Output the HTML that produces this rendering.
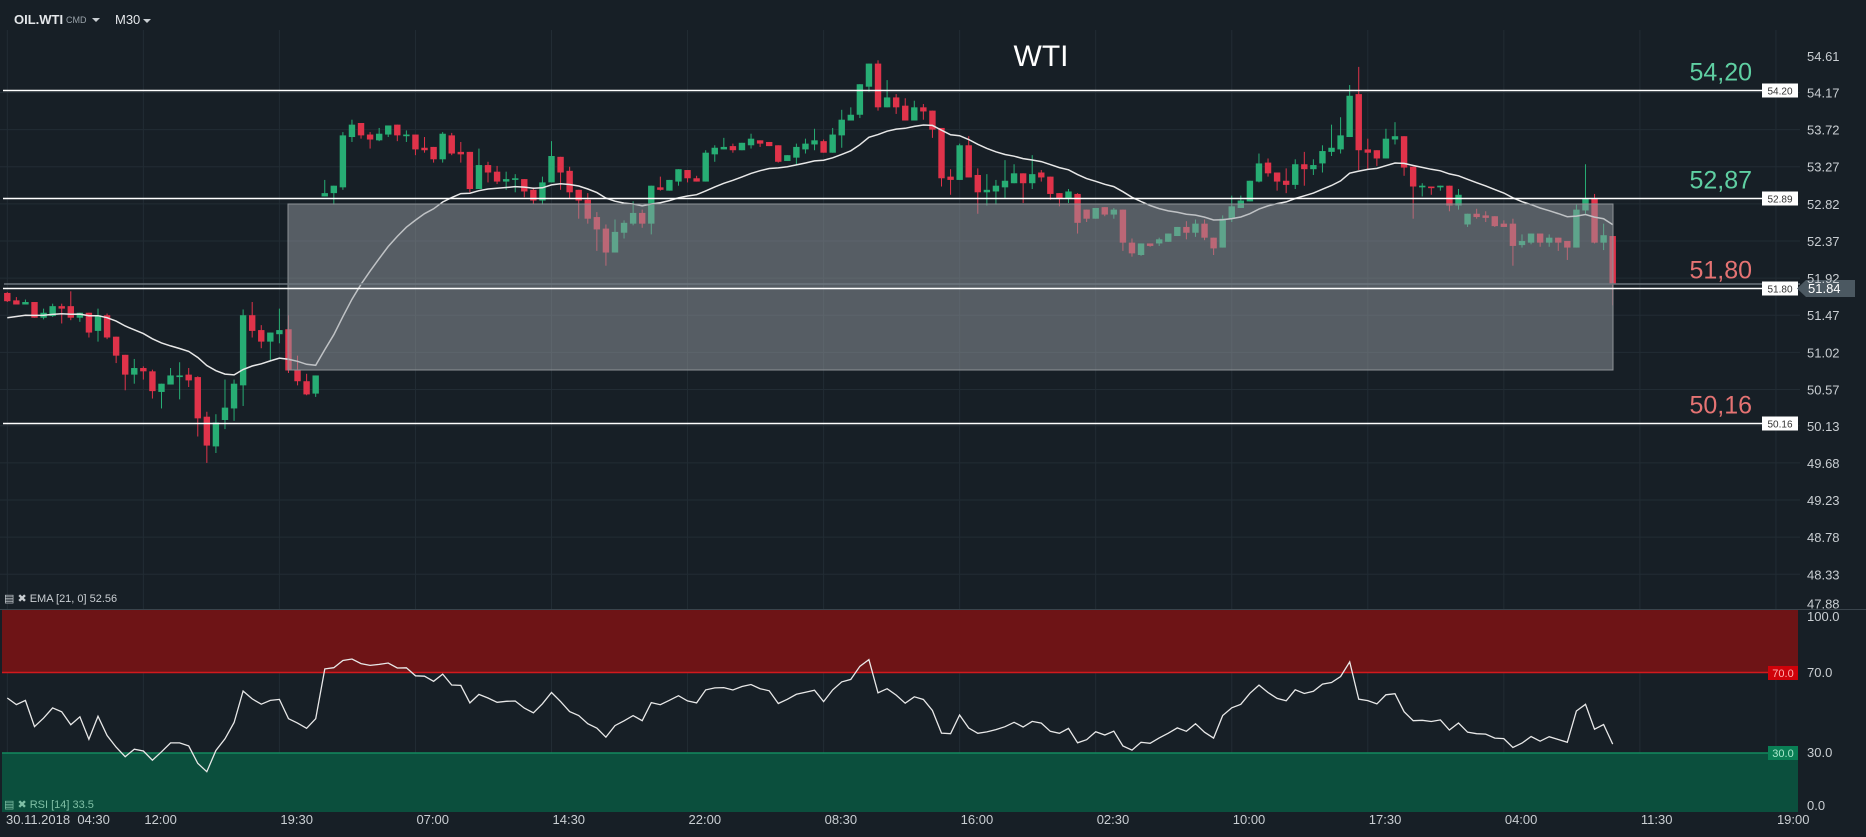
<!DOCTYPE html>
<html><head><meta charset="utf-8"><style>
html,body{margin:0;padding:0;background:#171f26;}
svg{display:block;font-family:"Liberation Sans Narrow","Liberation Sans",sans-serif;}
</style></head><body>
<svg id="chart" width="1866" height="837" viewBox="0 0 1866 837">
<rect x="0" y="0" width="1866" height="837" fill="#171f26"/>
<g id="grid"></g>
<g id="candles"></g>
<path id="ema" fill="none" stroke="#e8e8e8" stroke-width="1.5"/>
<rect x="288" y="204" width="1325" height="166" fill="rgba(150,156,162,0.5)" stroke="#8d9296" stroke-width="1"/>
<line x1="4" y1="284" x2="1800" y2="284" stroke="#6d777e" stroke-width="1.5"/>
<g id="levels"></g>
<g id="rsi">
<rect x="2" y="610" width="1796" height="63" fill="#6e1416"/>
<line x1="2" y1="672.5" x2="1798" y2="672.5" stroke="#d2191d" stroke-width="1.5"/>
<rect x="2" y="753" width="1796" height="59" fill="#0b4f3d"/>
<line x1="2" y1="753" x2="1798" y2="753" stroke="#138a5e" stroke-width="1.5"/>
<line x1="0" y1="609.5" x2="1866" y2="609.5" stroke="#3a444c" stroke-width="1"/>
<path id="rsiLine" fill="none" stroke="#e8e8e8" stroke-width="1.3"/>
<rect x="1768" y="666" width="30" height="14" fill="#d0020a"/>
<text x="1783" y="677" fill="#ffb0b0" font-size="11" text-anchor="middle">70.0</text>
<rect x="1768" y="746" width="30" height="14" fill="#0a7f55"/>
<text x="1783" y="757" fill="#a9e8cc" font-size="11" text-anchor="middle">30.0</text>
<text x="1807" y="621" fill="#c9ced2" font-size="13">100.0</text>
<text x="1807" y="677" fill="#c9ced2" font-size="13">70.0</text>
<text x="1807" y="757" fill="#c9ced2" font-size="13">30.0</text>
<text x="1807" y="810" fill="#c9ced2" font-size="13">0.0</text>
</g>
<g id="labels">
<text x="14" y="24" fill="#e4e7ea" font-size="13" font-weight="bold">OIL.WTI</text>
<text x="66" y="23" fill="#9aa3aa" font-size="9">CMD</text>
<path d="M92 18 L100 18 L96 22 Z" fill="#c9ced2"/>
<text x="115" y="24" fill="#e4e7ea" font-size="13">M30</text>
<path d="M143 19 L151 19 L147 23 Z" fill="#c9ced2"/>
<text x="1041" y="66" fill="#ffffff" font-size="30" text-anchor="middle">WTI</text>
<text x="4" y="602" fill="#c9ced2" font-size="11">▤ ✖ EMA [21, 0] 52.56</text>
<text x="4" y="808" fill="#7fbfa5" font-size="11">▤ ✖ RSI [14] 33.5</text>
<path d="M1797 288.5 L1806 280 L1855 280 L1855 297 L1806 297 Z" fill="#4b5861"/>
<text x="1808" y="293" fill="#ffffff" font-size="13">51.84</text>
</g>
<g id="axes"></g>
</svg>
<script>
const NS="http://www.w3.org/2000/svg";
const opens=[51.74,51.65,51.60,51.63,51.44,51.46,51.58,51.58,51.44,51.50,51.28,51.47,51.21,50.99,50.75,50.83,50.79,50.54,50.63,50.72,50.75,50.72,50.24,49.88,50.20,50.34,50.62,51.47,51.29,51.15,51.24,51.30,50.81,50.67,50.52,52.91,52.95,53.02,53.63,53.80,53.66,53.59,53.66,53.78,53.64,53.66,53.50,53.51,53.36,53.65,53.45,53.45,53.00,53.29,53.21,53.09,53.11,53.12,52.99,52.86,53.08,53.39,53.22,52.99,52.87,52.66,52.52,52.23,52.47,52.58,52.71,52.58,53.02,52.98,53.09,53.23,53.13,53.09,53.42,53.48,53.52,53.47,53.53,53.59,53.57,53.53,53.34,53.38,53.48,53.54,53.58,53.44,53.65,53.83,53.90,54.24,54.52,53.99,54.11,54.01,53.83,53.99,53.95,53.74,53.15,53.11,53.53,53.17,52.96,52.97,53.02,53.07,53.19,53.07,53.20,53.15,52.95,52.88,52.94,52.75,52.64,52.78,52.69,52.75,52.35,52.20,52.34,52.34,52.36,52.43,52.54,52.47,52.58,52.41,52.29,52.64,52.77,52.85,53.09,53.32,53.20,53.10,53.05,53.30,53.24,53.31,53.45,53.48,53.63,54.15,53.48,53.47,53.37,53.60,53.64,53.27,53.02,53.03,53.02,53.04,52.80,52.57,52.70,52.68,52.67,52.58,52.58,52.32,52.35,52.46,52.35,52.41,52.37,52.29,52.74,52.88,52.35,52.43];
const highs=[51.75,51.69,51.66,51.63,51.55,51.61,51.61,51.76,51.50,51.50,51.55,51.49,51.21,50.99,50.94,50.85,50.81,50.64,50.83,50.90,50.83,50.73,50.30,50.27,50.69,50.69,51.54,51.63,51.35,51.26,51.55,51.47,50.98,50.76,50.74,53.11,53.04,53.69,53.84,53.80,53.69,53.74,53.77,53.78,53.71,53.66,53.63,53.51,53.69,53.68,53.57,53.45,53.49,53.33,53.28,53.21,53.18,53.12,53.02,53.15,53.58,53.39,53.27,52.99,52.95,52.72,52.57,52.63,52.62,52.85,52.75,53.04,53.15,53.11,53.24,53.23,53.16,53.47,53.53,53.62,53.55,53.56,53.67,53.59,53.57,53.53,53.41,53.55,53.61,53.73,53.60,53.74,53.96,53.99,54.27,54.52,54.56,54.32,54.15,54.10,54.07,54.03,53.95,53.74,53.24,53.55,53.64,53.25,53.18,53.11,53.35,53.30,53.19,53.41,53.23,53.15,52.95,53.00,52.95,52.75,52.77,52.78,52.77,52.75,52.40,52.34,52.34,52.41,52.46,52.54,52.61,52.63,52.63,52.41,52.68,52.92,52.92,53.10,53.43,53.37,53.20,53.25,53.36,53.45,53.36,53.53,53.78,53.87,54.26,54.48,53.61,53.47,53.73,53.81,53.64,53.27,53.07,53.03,53.04,53.04,53.00,52.70,52.76,52.73,52.67,52.62,52.64,52.45,52.46,52.46,52.45,52.41,52.37,52.81,53.30,52.94,52.58,52.43];
const lows=[51.63,51.60,51.60,51.44,51.42,51.45,51.37,51.41,51.39,51.20,51.15,51.18,50.89,50.56,50.64,50.69,50.46,50.34,50.63,50.45,50.60,50.00,49.68,49.80,50.09,50.19,50.37,51.20,51.07,50.92,51.13,50.77,50.62,50.50,50.48,52.91,52.81,52.99,53.57,53.61,53.49,53.58,53.63,53.58,53.57,53.41,53.44,53.32,53.32,53.41,53.32,52.96,53.00,53.08,53.06,52.99,52.96,52.90,52.82,52.81,53.08,52.99,52.88,52.64,52.58,52.25,52.07,52.23,52.40,52.56,52.53,52.45,52.98,52.98,53.04,53.08,53.09,53.09,53.33,53.48,53.44,53.47,53.49,53.51,53.52,53.32,53.34,53.30,53.43,53.47,53.44,53.44,53.50,53.83,53.86,54.18,53.95,53.99,53.91,53.83,53.83,53.84,53.62,53.03,52.93,53.11,53.14,52.70,52.80,52.81,52.89,53.07,52.83,53.00,53.09,52.87,52.79,52.83,52.46,52.60,52.64,52.67,52.64,52.25,52.18,52.19,52.30,52.31,52.36,52.43,52.39,52.42,52.38,52.20,52.29,52.60,52.77,52.85,53.08,53.15,52.98,52.95,53.00,53.04,53.17,53.20,53.40,53.43,53.63,53.23,53.23,53.28,53.37,53.54,53.16,52.64,52.91,52.93,52.98,52.73,52.75,52.54,52.64,52.60,52.54,52.54,52.07,52.29,52.33,52.30,52.30,52.25,52.14,52.29,52.70,52.34,52.26,51.59];
const closes=[51.64,51.60,51.63,51.44,51.50,51.58,51.55,51.44,51.50,51.26,51.47,51.20,50.98,50.75,50.83,50.79,50.55,50.64,50.74,50.74,50.68,50.22,49.89,50.17,50.35,50.64,51.47,51.28,51.15,51.26,51.29,50.80,50.67,50.51,50.74,52.95,53.04,53.65,53.78,53.65,53.60,53.67,53.77,53.65,53.66,53.48,53.47,53.36,53.67,53.43,53.42,53.00,53.29,53.20,53.09,53.12,53.13,52.97,52.86,53.08,53.40,53.20,52.96,52.86,52.64,52.51,52.23,52.48,52.59,52.71,52.58,53.04,52.99,53.11,53.24,53.13,53.09,53.44,53.50,53.51,53.47,53.56,53.61,53.55,53.52,53.33,53.41,53.51,53.55,53.59,53.44,53.66,53.84,53.90,54.27,54.52,53.99,54.11,53.99,53.83,53.99,53.94,53.72,53.13,53.11,53.53,53.14,52.96,52.99,53.04,53.10,53.19,53.07,53.18,53.14,52.94,52.89,52.97,52.59,52.64,52.77,52.69,52.75,52.35,52.22,52.34,52.31,52.39,52.46,52.54,52.47,52.58,52.41,52.28,52.64,52.79,52.86,53.10,53.31,53.19,53.09,53.05,53.30,53.24,53.29,53.46,53.50,53.65,54.13,53.47,53.44,53.37,53.61,53.64,53.26,53.03,53.04,53.01,53.04,52.80,52.93,52.70,52.66,52.65,52.55,52.54,52.31,52.37,52.46,52.35,52.41,52.35,52.29,52.75,52.88,52.35,52.44,51.85];
const emaSeed=51.44;
const rsiSeedGain=0.029, rsiSeedLoss=0.022;
const priceTicks=[54.61,54.17,53.72,53.27,52.82,52.37,51.92,51.47,51.02,50.57,50.13,49.68,49.23,48.78,48.33,47.88];
const timeLabels=["30.11.2018  04:30","12:00","19:30","07:00","14:30","22:00","08:30","16:00","02:30","10:00","17:30","04:00","11:30","19:00"];
const levelValues=[54.20,52.89,51.80,50.16];
const levelTexts=["54,20","52,87","51,80","50,16"];
const levelColors=["#5fcfa2","#5fcfa2","#e57373","#e57373"];

const yP=p=>90+(54.20-p)*82.5;
const xI=i=>7.3+9.07*i;
const yR=v=>814-v*2.04;
const gridX=k=>7.3+15*9.07*k;

const grid=document.getElementById('grid');
const axes=document.getElementById('axes');
priceTicks.forEach((t,k)=>{
  const y=yP(t);
  if(k>0&&k<priceTicks.length-1){
    const l=document.createElementNS(NS,'line');
    l.setAttribute('x1',0);l.setAttribute('x2',1800);l.setAttribute('y1',y);l.setAttribute('y2',y);
    l.setAttribute('stroke','#222c34');l.setAttribute('stroke-width','1');
    
    
    grid.appendChild(l);
  }
  const tx=document.createElementNS(NS,'text');
  const last=k===priceTicks.length-1;
  tx.setAttribute('x',1807);tx.setAttribute('y',last?y-3:y+5);tx.setAttribute('fill','#c9ced2');tx.setAttribute('font-size','13');
  tx.textContent=t.toFixed(2);
  
  
  axes.appendChild(tx);
});
timeLabels.forEach((t,k)=>{
  const x=gridX(k);
  const l=document.createElementNS(NS,'line');
  l.setAttribute('x1',x);l.setAttribute('x2',x);l.setAttribute('y1',30);l.setAttribute('y2',812);
  l.setAttribute('stroke','#222c34');l.setAttribute('stroke-width','1');
  
  
  grid.appendChild(l);
  const tx=document.createElementNS(NS,'text');
  tx.setAttribute('x',k===0?6:x+1);tx.setAttribute('y',824);tx.setAttribute('fill','#c9ced2');tx.setAttribute('font-size','13');
  tx.setAttribute('xml:space','preserve');tx.style.whiteSpace='pre';
  tx.textContent=t;
  
  
  axes.appendChild(tx);
});

const cg=document.getElementById('candles');
closes.forEach((c,i)=>{
  const o=opens[i],up=c>=o,col=up?'#27ad74':'#e0334a',x=xI(i);
  const w=document.createElementNS(NS,'line');
  w.setAttribute('x1',x);w.setAttribute('x2',x);w.setAttribute('y1',yP(highs[i]));w.setAttribute('y2',yP(lows[i]));
  w.setAttribute('stroke',col);w.setAttribute('stroke-width','1');
  
  
  cg.appendChild(w);
  const b=document.createElementNS(NS,'rect');
  const yt=yP(Math.max(o,c)),yb=yP(Math.min(o,c));
  b.setAttribute('x',x-3.2);b.setAttribute('width',6.4);b.setAttribute('y',yt);b.setAttribute('height',Math.max(1.5,yb-yt));
  b.setAttribute('fill',col);
  
  
  cg.appendChild(b);
});

let e=emaSeed,k=2/22,d='';
closes.forEach((c,i)=>{e=i===0?emaSeed:e+k*(c-e);d+=(i?'L':'M')+xI(i).toFixed(1)+' '+yP(e).toFixed(1);});
document.getElementById('ema').setAttribute('d',d);

let ag=rsiSeedGain,al=rsiSeedLoss,rd='';
closes.forEach((c,i)=>{
  if(i>0){const ch=c-closes[i-1];ag=(ag*13+Math.max(ch,0))/14;al=(al*13+Math.max(-ch,0))/14;}
  const r=100-100/(1+ag/al);
  rd+=(i?'L':'M')+xI(i).toFixed(1)+' '+yR(r).toFixed(1);
});
document.getElementById('rsiLine').setAttribute('d',rd);

const lv=document.getElementById('levels');
levelValues.forEach((v,i)=>{
  const y=Math.round(yP(v))+0.5;
  const l=document.createElementNS(NS,'line');
  l.setAttribute('x1',3);l.setAttribute('x2',1763);l.setAttribute('y1',y);l.setAttribute('y2',y);
  l.setAttribute('stroke','#ffffff');l.setAttribute('stroke-width','1.5');
  
  
  lv.appendChild(l);
  const r=document.createElementNS(NS,'rect');
  r.setAttribute('x',1762);r.setAttribute('y',y-7);r.setAttribute('width',36);r.setAttribute('height',14);r.setAttribute('fill','#ffffff');
  
  
  lv.appendChild(r);
  const t=document.createElementNS(NS,'text');
  t.setAttribute('x',1780);t.setAttribute('y',y+4);t.setAttribute('fill','#333');t.setAttribute('font-size','10');t.setAttribute('text-anchor','middle');
  t.textContent=v.toFixed(2);
  
  
  lv.appendChild(t);
  const big=document.createElementNS(NS,'text');
  big.setAttribute('x',1752);big.setAttribute('y',y-10);big.setAttribute('fill',levelColors[i]);big.setAttribute('font-size','25');big.setAttribute('text-anchor','end');
  big.setAttribute('font-family','"Liberation Sans",sans-serif');
  big.textContent=levelTexts[i];
  
  
  lv.appendChild(big);
});
</script>
</body></html>
